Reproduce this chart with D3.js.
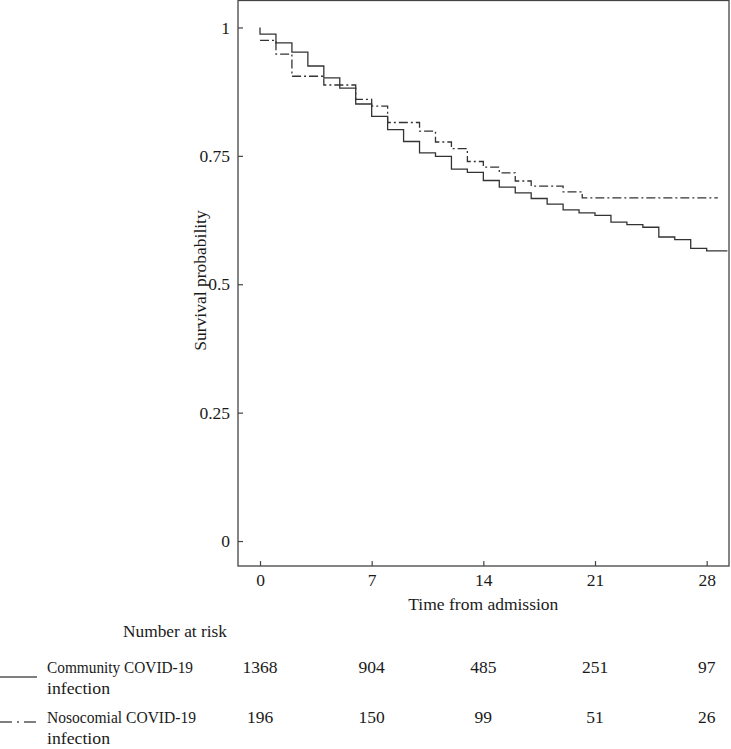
<!DOCTYPE html>
<html>
<head>
<meta charset="utf-8">
<script src="https://cdn.jsdelivr.net/npm/d3@7"></script>
<style>
  html, body { margin: 0; padding: 0; background: #fff; }
  svg text { font-family: "Liberation Serif", "Times New Roman", serif; fill: #1a1a1a; }
</style>
</head>
<body>
<svg id="chart" width="731" height="749"></svg>
<script>
// ---- data ----
const xTicks = [0, 7, 14, 21, 28];
const yTicks = [0, 0.25, 0.5, 0.75, 1];
const yTickLabels = ["0", "0.25", "0.5", "0.75", "1"];

// Community COVID-19 infection (solid)
const commTimes = [0, 0, 1, 2, 3, 4, 5, 6, 7, 8, 9, 10, 11, 12, 13, 14, 15, 16, 17, 18, 19, 20, 21, 22, 23, 24, 25, 26, 27, 28, 29.3];
const commSurv  = [1.000, 0.987, 0.970, 0.952, 0.925, 0.902, 0.882, 0.851, 0.827, 0.801, 0.778, 0.756, 0.749, 0.724, 0.718, 0.702, 0.689, 0.678, 0.667, 0.656, 0.645, 0.639, 0.634, 0.621, 0.616, 0.611, 0.592, 0.587, 0.570, 0.565, 0.565];

// Nosocomial COVID-19 infection (dash-dot)
const nosoTimes = [0, 1, 2, 4, 6, 7, 8, 10, 11, 12, 13, 14, 15, 16, 17, 19, 20.2, 28.7];
const nosoSurv  = [0.975, 0.948, 0.905, 0.888, 0.860, 0.847, 0.815, 0.798, 0.777, 0.764, 0.739, 0.728, 0.717, 0.701, 0.691, 0.680, 0.668, 0.668];

// Number at risk
const riskTimes = [0, 7, 14, 21, 28];
const commRisk = [1368, 904, 485, 251, 97];
const nosoRisk = [196, 150, 99, 51, 26];
const groupNames = [["Community COVID-19", "infection"], ["Nosocomial COVID-19", "infection"]];

// ---- layout ----
const svg = d3.select("#chart");
const plot = { left: 238, right: 729, top: 0.5, bottom: 566 };
const x = d3.scaleLinear().domain([-1.38, 29.4]).range([plot.left, plot.right]);
const y = d3.scaleLinear().domain([-0.0486, 1.0525]).range([plot.bottom, plot.top]);

const lineColor = "#333";
const fontSize = 17.5;

// frame
svg.append("rect")
  .attr("x", plot.left).attr("y", plot.top)
  .attr("width", plot.right - plot.left).attr("height", plot.bottom - plot.top)
  .attr("fill", "none").attr("stroke", "#444").attr("stroke-width", 1.3);

// x axis (ticks inward)
const xAxis = d3.axisBottom(x).tickValues(xTicks).tickSize(-5).tickPadding(8).tickFormat(d3.format("d"));
const gx = svg.append("g").attr("transform", `translate(0,${plot.bottom})`).call(xAxis);
gx.select(".domain").remove();
gx.selectAll(".tick line").attr("stroke", "#444").attr("stroke-width", 1.2);
gx.selectAll(".tick text").attr("font-size", fontSize).attr("font-family", "Liberation Serif").attr("fill", "#1a1a1a");

// y axis (ticks inward)
const yAxis = d3.axisLeft(y).tickValues(yTicks).tickSize(-5).tickPadding(8).tickFormat((d, i) => yTickLabels[i]);
const gy = svg.append("g").attr("transform", `translate(${plot.left},0)`).call(yAxis);
gy.select(".domain").remove();
gy.selectAll(".tick line").attr("stroke", "#444").attr("stroke-width", 1.2);
gy.selectAll(".tick text").attr("font-size", fontSize).attr("font-family", "Liberation Serif").attr("fill", "#1a1a1a");

// axis titles
svg.append("text")
  .attr("x", x(14)).attr("y", 610)
  .attr("text-anchor", "middle").attr("font-size", fontSize)
  .text("Time from admission");

// y title: place the word gap near the 0.5 tick label
const probe = svg.append("text").attr("font-size", fontSize).text("Survival");
const wSurv = probe.node().getComputedTextLength();
probe.text("Survival p");
const wSurvP = probe.node().getComputedTextLength();
probe.text("p");
const wP = probe.node().getComputedTextLength();
probe.remove();
const gapMid = (wSurv + (wSurvP - wP)) / 2;
svg.append("text")
  .attr("transform", `translate(206,${y(0.5) + gapMid + 5}) rotate(-90)`)
  .attr("text-anchor", "start").attr("font-size", fontSize)
  .text("Survival probability");

// curves
const stepLine = d3.line().x(d => x(d[0])).y(d => y(d[1])).curve(d3.curveStepAfter);
const commPts = commTimes.map((t, i) => [t, commSurv[i]]);
const nosoPts = nosoTimes.map((t, i) => [t, nosoSurv[i]]);

svg.append("path").datum(nosoPts)
  .attr("d", stepLine).attr("fill", "none")
  .attr("stroke", lineColor).attr("stroke-width", 1.3)
  .attr("stroke-dasharray", "9,3,2,3");
svg.append("path").datum(commPts)
  .attr("d", stepLine).attr("fill", "none")
  .attr("stroke", lineColor).attr("stroke-width", 1.3);

// number at risk table
svg.append("text").attr("x", 123).attr("y", 637).attr("font-size", fontSize)
  .attr("textLength", 104).attr("lengthAdjust", "spacingAndGlyphs").text("Number at risk");

const rows = [
  { names: groupNames[0], risk: commRisk, y1: 673, ly: 677, dash: null, len: 146 },
  { names: groupNames[1], risk: nosoRisk, y1: 723, ly: 722, dash: "12,5,2,5", len: 149 }
];
rows.forEach(r => {
  svg.append("line")
    .attr("x1", 0).attr("x2", 37).attr("y1", r.ly).attr("y2", r.ly)
    .attr("stroke", "#555").attr("stroke-width", 1.3)
    .attr("stroke-dasharray", r.dash);
  svg.append("text").attr("x", 47).attr("y", r.y1).attr("font-size", fontSize)
    .attr("textLength", r.len).attr("lengthAdjust", "spacingAndGlyphs").text(r.names[0]);
  svg.append("text").attr("x", 47).attr("y", r.y1 + 21).attr("font-size", fontSize)
    .attr("textLength", 63).attr("lengthAdjust", "spacingAndGlyphs").text(r.names[1]);
  riskTimes.forEach((t, i) => {
    svg.append("text").attr("x", x(t)).attr("y", r.y1)
      .attr("text-anchor", "middle").attr("font-size", fontSize).text(r.risk[i]);
  });
});
</script>
</body>
</html>
